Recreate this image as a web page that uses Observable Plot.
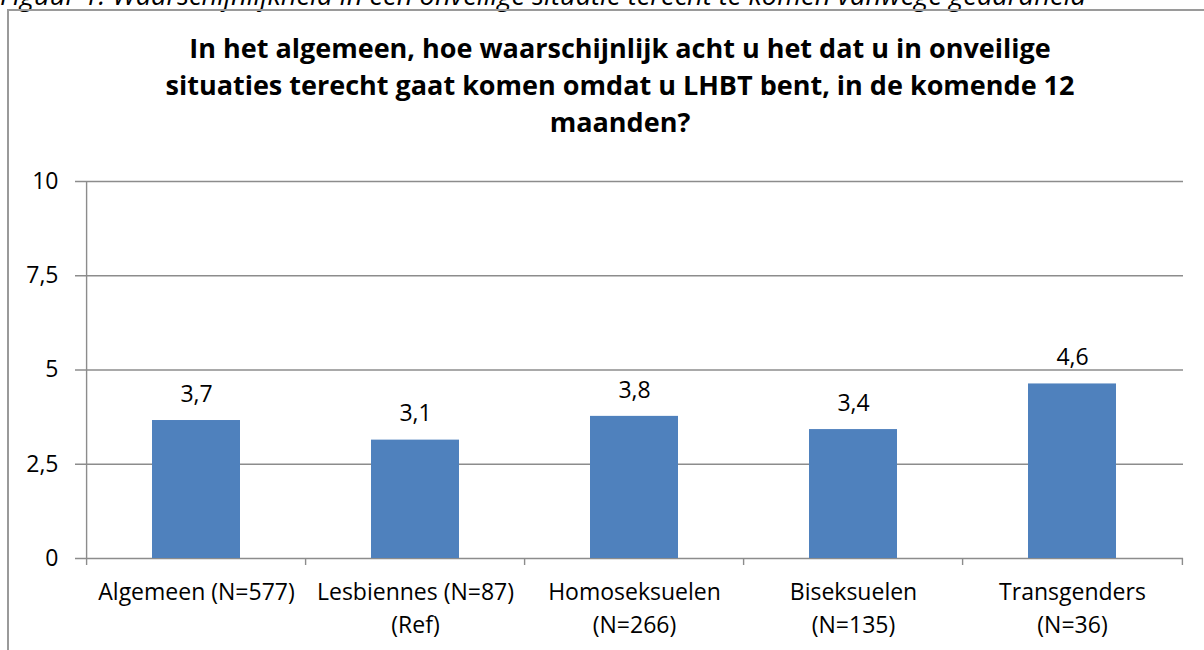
<!DOCTYPE html>
<html>
<head>
<meta charset="utf-8">
<script src="https://cdn.jsdelivr.net/npm/d3@7"></script>
<script src="https://cdn.jsdelivr.net/npm/@observablehq/plot@0.6"></script>
<style>
  html, body { margin: 0; padding: 0; background: #fff; overflow: hidden; }
  #wrap { position: relative; width: 1204px; height: 650px; overflow: hidden; font-family: "Open Sans", sans-serif; }
  #caption { position: absolute; left: 0; top: -19px; font-style: italic; font-size: 27.3px; line-height: 27px; white-space: nowrap; color: #000; }
  #frame { position: absolute; left: 7px; top: 9px; width: 1400px; height: 800px; border: 2px solid #9a9a9a; box-sizing: border-box; }
  #title { position: absolute; left: 0; top: 29px; width: 1240px; text-align: center; font-weight: bold; font-size: 27px; line-height: 37px; color: #000; }
  #chart { position: absolute; left: 0; top: 150px; }
</style>
</head>
<body>
<div id="wrap">
  <div id="caption">Figuur 1: Waarschijnlijkheid in een onveilige situatie terecht te komen vanwege geaardheid</div>
  <div id="frame"></div>
  <div id="title">In het algemeen, hoe waarschijnlijk acht u het dat u in onveilige<br>situaties terecht gaat komen omdat u LHBT bent, in de komende 12<br>maanden?</div>
  <div id="chart"></div>
</div>
<script>
const categories = ["Algemeen (N=577)", "Lesbiennes (N=87)\n(Ref)", "Homoseksuelen\n(N=266)", "Biseksuelen\n(N=135)", "Transgenders\n(N=36)"];
const values = [3.66, 3.14, 3.77, 3.42, 4.63];
const yTicks = [0, 2.5, 5, 7.5, 10];
const yTickLabels = ["0", "2,5", "5", "7,5", "10"];

const data = categories.map((c, i) => ({cat: c, value: values[i]}));
const W = 1204, H = 500, ML = 84, MR = 21, MT = 31, MB = 92;
const step = (W - ML - MR) / categories.length;
const fmt = v => v.toFixed(1).replace(".", ",");
const grid = "#8c8c8c";

const chart = Plot.plot({
  width: W, height: H,
  marginLeft: ML, marginRight: MR, marginTop: MT, marginBottom: MB,
  style: {fontFamily: "'Open Sans', sans-serif", fontSize: "23px", color: "#000", background: "transparent"},
  x: {type: "band", domain: categories, paddingInner: 0.6, paddingOuter: 0.3},
  y: {domain: [0, 10]},
  marks: [
    Plot.ruleY(yTicks, {y: d => d, stroke: grid, strokeWidth: 1.4, insetLeft: -9}),
    Plot.barY(data, {x: "cat", y: "value", fill: "#4f81bd"}),
    Plot.ruleX([categories[0]], {x: d => d, dx: -step / 2, y1: 10, y2: 0, stroke: grid, strokeWidth: 1.4}),
    Plot.ruleX(categories, {x: d => d, dx: -step / 2, y1: 0, y2: 0, insetBottom: -7, stroke: grid, strokeWidth: 1.4}),
    Plot.ruleX([categories[categories.length - 1]], {x: d => d, dx: step / 2, y1: 0, y2: 0, insetBottom: -7, stroke: grid, strokeWidth: 1.4}),
    Plot.text(data, {x: "cat", y: "value", text: d => fmt(d.value), dy: -26, fontSize: 23, fill: "#000"}),
    Plot.axisY({ticks: yTicks, tickFormat: d => yTickLabels[yTicks.indexOf(d)], tickSize: 0, tickPadding: 26, fontSize: 23, label: null}),
    Plot.axisX({tickSize: 0, tickPadding: 18, fontSize: 23, lineHeight: 1.43, label: null})
  ]
});
document.getElementById("chart").appendChild(chart);
</script>
</body>
</html>
